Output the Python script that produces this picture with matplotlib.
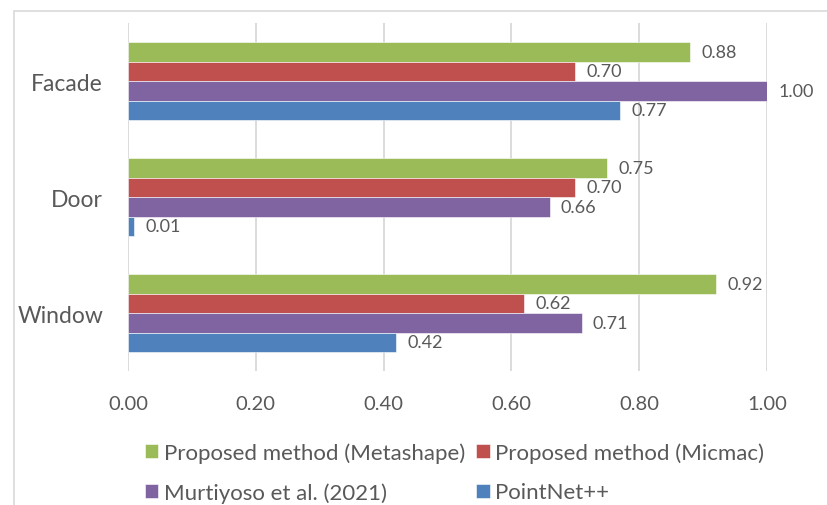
import matplotlib.pyplot as plt
import numpy as np
from matplotlib.patches import Rectangle

plt.rcParams['font.family'] = ['Lato', 'DejaVu Sans']

categories = ['Window', 'Door', 'Facade']
series_names = [
    'Proposed method (Metashape)',
    'Proposed method (Micmac)',
    'Murtiyoso et al. (2021)',
    'PointNet++',
]
metashape = [0.92, 0.75, 0.88]
micmac = [0.62, 0.70, 0.70]
murtiyoso = [0.71, 0.66, 1.00]
pointnet = [0.42, 0.01, 0.77]
colors = ['#9BBB59', '#C0504D', '#8064A2', '#4F81BD']

text_color = '#595959'
grid_color = '#D9D9D9'

fig = plt.figure(figsize=(8.27, 5.06), dpi=100)
ax = fig.add_axes([0.1548, 0.2648, 0.7727, 0.6877])

# outer chart frame
fig.patches.append(Rectangle((14 / 827, -0.1), 1.2, 1 - 12 / 506 + 0.1,
                             transform=fig.transFigure, fill=False,
                             edgecolor='#D9D9D9', linewidth=1.2))

y = np.arange(len(categories))
h = 0.168
offsets = [1.5 * h, 0.5 * h, -0.5 * h, -1.5 * h]
handles = []
for vals, name, color, off in zip([metashape, micmac, murtiyoso, pointnet],
                                  series_names, colors, offsets):
    bars = ax.barh(y + off, vals, height=h, color=color, label=name,
                   edgecolor='white', linewidth=0.4, zorder=3)
    handles.append(bars)
    for yy, v in zip(y + off, vals):
        ax.annotate(f'{v:.2f}', (v, yy), xytext=(8, 0), textcoords='offset points',
                    ha='left', va='center', fontsize=13, color=text_color)

ax.set_xlim(0, 1.0)
ax.set_ylim(-0.5, 2.5)
ax.set_xticks(np.arange(0, 1.01, 0.2))
ax.set_xticklabels([f'{t:.2f}' for t in np.arange(0, 1.01, 0.2)])
ax.set_yticks(y)
ax.set_yticklabels(categories)
ax.tick_params(axis='x', length=0, pad=17, labelsize=14.5, labelcolor=text_color)
ax.tick_params(axis='y', length=0, pad=18, labelsize=16.5, labelcolor=text_color)
ax.grid(axis='x', color=grid_color, linewidth=1.3, zorder=0)
for s in ax.spines.values():
    s.set_visible(False)

# legend fills column-wise, so reorder for row-wise reading
order = [0, 2, 1, 3]
leg = fig.legend([handles[i] for i in order], [series_names[i] for i in order],
                 ncol=2, loc='upper left', bbox_to_anchor=(145 / 827, 0.124),
                 borderaxespad=0, borderpad=0,
                 frameon=False, fontsize=16, handlelength=0.6, handleheight=0.6,
                 handletextpad=0.25, columnspacing=0.5, labelspacing=0.88,
                 labelcolor=text_color)

fig.savefig('out.png', dpi=100)
